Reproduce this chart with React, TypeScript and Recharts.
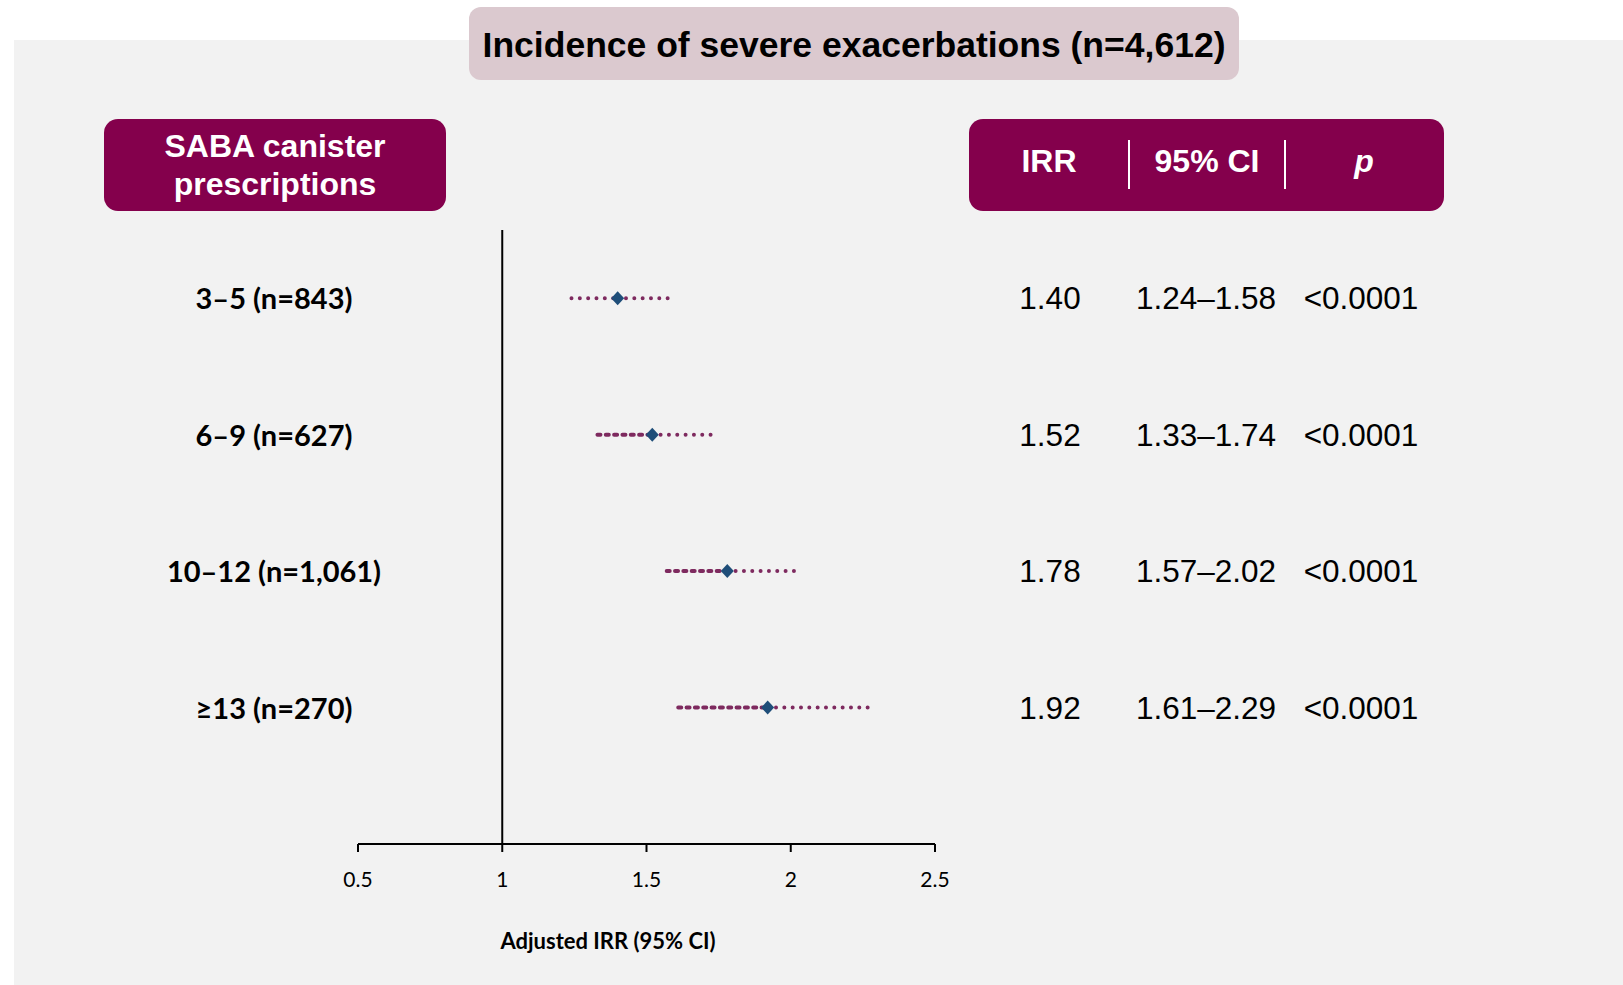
import React from 'react';
import { ScatterChart, Scatter, XAxis, YAxis, ReferenceLine } from 'recharts';

// rows top to bottom
const GROUPS = ['3–5 (n=843)', '6–9 (n=627)', '10–12 (n=1,061)', '≥13 (n=270)'];
const ROW_POS = [4, 3, 2, 1];
const IRR = [1.4, 1.52, 1.78, 1.92];
const CI_LOW = [1.24, 1.33, 1.57, 1.61];
const CI_HIGH = [1.58, 1.74, 2.02, 2.29];
const IRR_TEXT = ['1.40', '1.52', '1.78', '1.92'];
const CI_TEXT = ['1.24–1.58', '1.33–1.74', '1.57–2.02', '1.61–2.29'];
const P_TEXT = ['<0.0001', '<0.0001', '<0.0001', '<0.0001'];
const X_TICKS = [0.5, 1, 1.5, 2, 2.5];

const MAROON = '#84004c';
const CI_COLOR = '#7e2a5f';
const POINT_COLOR = '#1f4e79';
const DOTS = '0 8.33';
const DASHES = '3 5.33';
const ARIAL = '"Liberation Sans", Arial, sans-serif';
const LATO = 'Lato, "Noto Sans", sans-serif';

const rows = GROUPS.map((label, i) => ({
  label,
  row: ROW_POS[i],
  irr: IRR[i],
  lo: CI_LOW[i],
  hi: CI_HIGH[i],
  irrText: IRR_TEXT[i],
  ciText: CI_TEXT[i],
  p: P_TEXT[i],
}));

// row label on the left, IRR / CI / p columns on the right
function RowTick({ y, payload }: any) {
  const r = rows.find(d => d.row === payload.value);
  if (!r) return null;
  const cell = { y, dy: 11, textAnchor: 'middle' as const, fontFamily: ARIAL, fontSize: 31.5, fill: '#000' };
  return (
    <g>
      <text x={274} y={y} dy={11} textAnchor="middle" fontFamily={LATO} fontWeight={700} fontSize={29} fill="#000">
        {r.label}
      </text>
      <text x={1050} {...cell}>{r.irrText}</text>
      <text x={1206} {...cell}>{r.ciText}</text>
      <text x={1361} {...cell}>{r.p}</text>
    </g>
  );
}

function AxisTitle({ viewBox }: any) {
  return (
    <text x={608} y={viewBox.y + 105} textAnchor="middle" fontFamily={LATO} fontWeight={700} fontSize={22} fill="#000">
      Adjusted IRR (95% CI)
    </text>
  );
}

const Diamond = (p: any) => (
  <path d={`M${p.cx},${p.cy - 7}L${p.cx + 6.5},${p.cy}L${p.cx},${p.cy + 7}L${p.cx - 6.5},${p.cy}Z`} fill={POINT_COLOR} />
);

const box: React.CSSProperties = {
  position: 'absolute',
  background: MAROON,
  color: '#fff',
  fontFamily: ARIAL,
  fontWeight: 700,
  fontSize: 32,
  borderRadius: 14,
  display: 'flex',
  alignItems: 'center',
  justifyContent: 'center',
  textAlign: 'center',
};

export default function App() {
  return (
    <div style={{ position: 'absolute', left: 0, top: 0, width: 1623, height: 985, background: '#fff', overflow: 'hidden' }}>
      <div style={{ position: 'absolute', left: 14, top: 40, right: 0, bottom: 0, background: '#f2f2f2' }} />

      <div
        style={{
          position: 'absolute', left: 469, top: 7, width: 770, height: 73, background: '#dbc9cf', borderRadius: 12,
          display: 'flex', alignItems: 'center', justifyContent: 'center', paddingTop: 4, boxSizing: 'border-box',
          fontFamily: ARIAL, fontWeight: 700, fontSize: 35.5, color: '#000',
        }}
      >
        Incidence of severe exacerbations (n=4,612)
      </div>

      <div style={{ ...box, left: 104, top: 119, width: 342, height: 92, lineHeight: '38px' }}>
        SABA canister<br />prescriptions
      </div>

      <div style={{ ...box, left: 969, top: 119, width: 475, height: 92 }}>
        <div style={{ position: 'absolute', left: 0, top: 24, width: 160, textAlign: 'center' }}>IRR</div>
        <div style={{ position: 'absolute', left: 159, top: 21, width: 1.5, height: 49, background: '#fff' }} />
        <div style={{ position: 'absolute', left: 160, top: 24, width: 156, textAlign: 'center' }}>95% CI</div>
        <div style={{ position: 'absolute', left: 315, top: 21, width: 1.5, height: 49, background: '#fff' }} />
        <div style={{ position: 'absolute', left: 316, top: 24, width: 158, textAlign: 'center', fontStyle: 'italic' }}>p</div>
      </div>

      <div style={{ position: 'absolute', left: 0, top: 0 }}>
        <ScatterChart width={1623} height={985} margin={{ top: 230, right: 688, bottom: 0, left: 0 }}>
          <XAxis
            type="number"
            dataKey="irr"
            domain={[0.5, 2.5]}
            ticks={X_TICKS}
            interval={0}
            height={141}
            tickSize={8}
            tickMargin={20}
            axisLine={{ stroke: '#000', strokeWidth: 2 }}
            tickLine={{ stroke: '#000', strokeWidth: 2 }}
            tick={{ fontFamily: LATO, fontSize: 21, fill: '#000' }}
            label={<AxisTitle />}
          />
          <YAxis
            type="number"
            dataKey="row"
            domain={[0, 4.5]}
            ticks={[1, 2, 3, 4]}
            interval={0}
            width={358}
            axisLine={false}
            tickLine={false}
            tick={<RowTick />}
          />
          <ReferenceLine x={1} stroke="#000" strokeWidth={2} />
          {rows.map((r, i) => (
            <ReferenceLine
              key={`lo-${i}`}
              segment={[{ x: r.lo, y: r.row }, { x: r.irr, y: r.row }]}
              stroke={CI_COLOR}
              strokeWidth={4}
              strokeLinecap="round"
              strokeDasharray={i === 0 ? DOTS : DASHES}
            />
          ))}
          {rows.map((r, i) => (
            <ReferenceLine
              key={`hi-${i}`}
              segment={[{ x: r.irr, y: r.row }, { x: r.hi, y: r.row }]}
              stroke={CI_COLOR}
              strokeWidth={4}
              strokeLinecap="round"
              strokeDasharray={DOTS}
            />
          ))}
          <Scatter data={rows} shape={Diamond} isAnimationActive={false} />
        </ScatterChart>
      </div>
    </div>
  );
}
